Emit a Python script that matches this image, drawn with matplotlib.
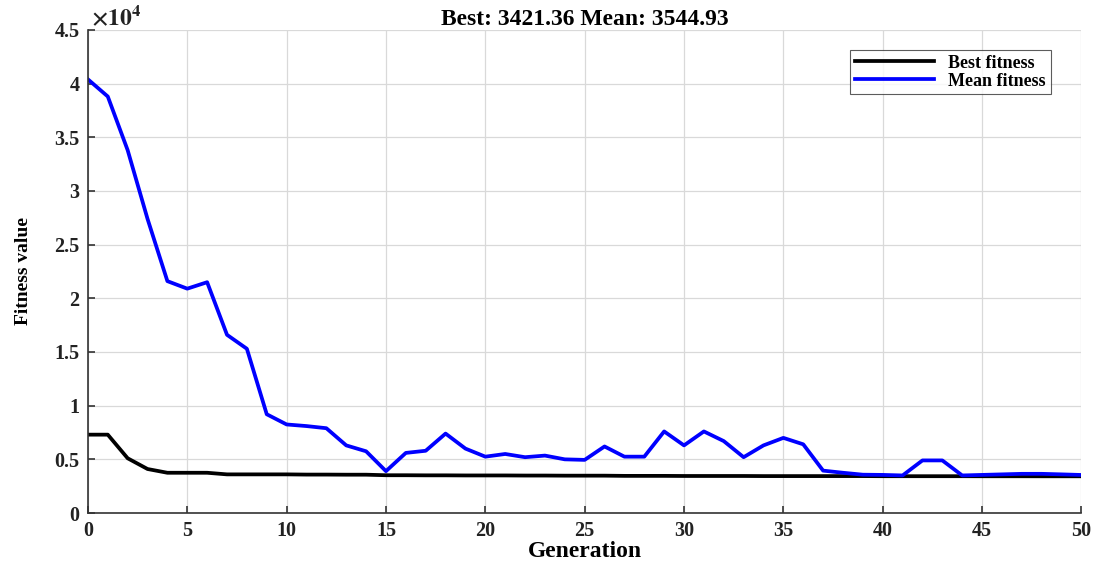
import matplotlib
matplotlib.use('Agg')
import matplotlib.pyplot as plt
from matplotlib.ticker import FuncFormatter, MultipleLocator
import numpy as np

plt.rcParams['font.family'] = ['Liberation Serif', 'DejaVu Serif']
plt.rcParams['font.weight'] = 'bold'
plt.rcParams['mathtext.fontset'] = 'stix'

# Data (generation 0..50)
generations = list(range(51))
best_fitness = [7300, 7300, 5100, 4100, 3750, 3750, 3750, 3600, 3600, 3600,
                3600, 3580, 3580, 3570, 3570, 3520, 3520, 3510, 3510, 3500,
                3500, 3500, 3490, 3490, 3480, 3480, 3480, 3460, 3460, 3460,
                3450, 3450, 3450, 3450, 3440, 3440, 3440, 3440, 3440, 3440,
                3430, 3430, 3430, 3430, 3430, 3425, 3425, 3425, 3422, 3422, 3421.36]
mean_fitness = [40400, 38800, 33800, 27400, 21600, 20900, 21500, 16600, 15300, 9200,
                8250, 8100, 7900, 6300, 5750, 3900, 5600, 5800, 7400, 6000,
                5250, 5500, 5200, 5350, 5000, 4950, 6200, 5250, 5250, 7600,
                6300, 7600, 6700, 5200, 6300, 7000, 6400, 3950, 3750, 3570,
                3550, 3500, 4900, 4900, 3500, 3550, 3600, 3650, 3650, 3600, 3544.93]

fig = plt.figure(figsize=(10.99, 5.65), dpi=100)
ax = fig.add_axes([0.080, 0.092, 0.904, 0.855])

ax.plot(generations, best_fitness, color='black', linewidth=2.7, label='Best fitness')
ax.plot(generations, mean_fitness, color='blue', linewidth=2.7, label='Mean fitness')

ax.set_xlim(0, 50)
ax.set_ylim(0, 45000)
ax.xaxis.set_major_locator(MultipleLocator(5))
ax.yaxis.set_major_locator(MultipleLocator(5000))
ax.yaxis.set_major_formatter(FuncFormatter(lambda v, p: f'{v / 1e4:g}'))

ax.grid(True, color='#d9d9d9', linewidth=0.9)
ax.set_axisbelow(True)
for side in ['top', 'right']:
    ax.spines[side].set_visible(False)
for side in ['left', 'bottom']:
    ax.spines[side].set_color('#333333')
    ax.spines[side].set_linewidth(1.2)
ax.tick_params(direction='in', length=5, width=1.2, colors='#333333',
               labelsize=14.5, labelcolor='#222222', pad=6)
for lbl in ax.get_xticklabels() + ax.get_yticklabels():
    lbl.set_fontweight('bold')

ax.text(0.003, 1.0, r'$\times\mathbf{10^4}$', transform=ax.transAxes,
        fontsize=17, ha='left', va='bottom', color='#222222')

ax.set_title('Best: 3421.36 Mean: 3544.93', fontsize=17, fontweight='bold', pad=3)
ax.set_xlabel('Generation', fontsize=17, fontweight='bold', labelpad=0)
ax.set_ylabel('Fitness value', fontsize=14, fontweight='bold', labelpad=16)

leg = ax.legend(loc='upper right', bbox_to_anchor=(0.978, 0.977), fontsize=13,
                frameon=True, fancybox=False, edgecolor='#333333',
                handlelength=4.4, borderpad=0.25, labelspacing=0.05)
leg.get_frame().set_linewidth(0.8)
for t in leg.get_texts():
    t.set_fontweight('bold')

plt.savefig('out.png', dpi=100)
plt.close()
